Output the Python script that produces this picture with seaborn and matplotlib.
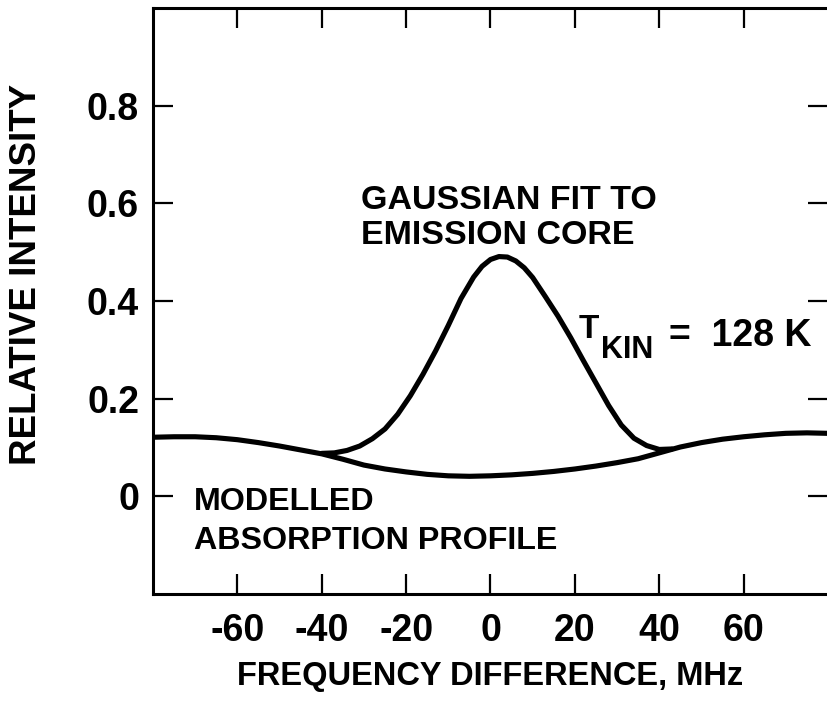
import numpy as np
import pandas as pd
import matplotlib
matplotlib.use("Agg")
import matplotlib.pyplot as plt
import seaborn as sns

# ---- data ----
absorption_x = [-80, -75, -70, -65, -60, -55, -50, -45, -40, -35, -30, -25, -20, -15, -10, -5,
                0, 5, 10, 15, 20, 25, 30, 35, 40, 45, 50, 55, 60, 65, 70, 75, 80]
absorption_y = [0.121, 0.122, 0.122, 0.120, 0.116, 0.110, 0.103, 0.095, 0.087, 0.076, 0.064,
                0.056, 0.050, 0.045, 0.042, 0.041, 0.042, 0.044, 0.047, 0.051, 0.056, 0.062,
                0.069, 0.077, 0.089, 0.101, 0.110, 0.117, 0.122, 0.126, 0.129, 0.130, 0.129]

gauss_x = [-40, -37, -34, -31, -28, -25, -22, -19, -16, -13, -10, -7, -4, -2, 0, 2, 4, 6, 8, 10,
           13, 16, 19, 22, 25, 28, 31, 34, 37, 40, 43]
gauss_y = [0.088, 0.089, 0.094, 0.103, 0.118, 0.138, 0.168, 0.206, 0.250, 0.298, 0.350, 0.405,
           0.449, 0.471, 0.485, 0.491, 0.490, 0.482, 0.468, 0.448, 0.409, 0.369, 0.325, 0.278,
           0.232, 0.186, 0.146, 0.119, 0.104, 0.096, 0.097]

x_ticks = [-60, -40, -20, 0, 20, 40, 60]
x_tick_labels = ["-60", "-40", "-20", "0", "20", "40", "60"]
y_ticks = [0, 0.2, 0.4, 0.6, 0.8]
y_tick_labels = ["0", "0.2", "0.4", "0.6", "0.8"]

x_label = "FREQUENCY DIFFERENCE, MHz"
y_label = "RELATIVE INTENSITY"
gauss_label = ["GAUSSIAN FIT TO", "EMISSION CORE"]
absorption_label = ["MODELLED", "ABSORPTION PROFILE"]
tkin_main, tkin_sub, tkin_value = "T", "KIN", "=  128 K"

# ---- styling ----
sns.set_style("ticks")
plt.rcParams["font.family"] = ["Liberation Sans", "DejaVu Sans"]
plt.rcParams["font.weight"] = "bold"

fig = plt.figure(figsize=(8.28, 7.05), dpi=100)
fig.patch.set_facecolor("white")
ax = fig.add_axes([153 / 828, 1 - 594 / 705, (828 - 153) / 828, (594 - 8) / 705])
ax.set_facecolor("white")

df_abs = pd.DataFrame({"x": absorption_x, "y": absorption_y})
df_gau = pd.DataFrame({"x": gauss_x, "y": gauss_y})
sns.lineplot(data=df_abs, x="x", y="y", ax=ax, color="black", lw=3.7,
             estimator=None, sort=False, solid_joinstyle="round", solid_capstyle="round")
sns.lineplot(data=df_gau, x="x", y="y", ax=ax, color="black", lw=3.7,
             estimator=None, sort=False, solid_joinstyle="round", solid_capstyle="round")

ax.set_xlim(-80, 80)
ax.set_ylim(-0.2, 1.0)
ax.set_xticks(x_ticks)
ax.set_xticklabels(x_tick_labels)
ax.set_yticks(y_ticks)
ax.set_yticklabels(y_tick_labels)

for s in ["left", "bottom", "top"]:
    ax.spines[s].set_linewidth(2.2)
    ax.spines[s].set_color("black")
ax.spines["right"].set_visible(False)

ax.tick_params(axis="x", which="both", direction="in", length=14.5, width=1.6,
               top=True, bottom=True, labelsize=27, pad=14, colors="black")
ax.tick_params(axis="y", which="both", direction="in", length=14.5, width=1.6,
               left=True, right=True, labelsize=27, pad=10, colors="black")
for lab in ax.get_xticklabels() + ax.get_yticklabels():
    lab.set_fontweight("bold")

ax.set_xlabel(x_label, fontsize=23.5, fontweight="bold", labelpad=8, color="black")
ax.set_ylabel(y_label, fontsize=26.5, fontweight="bold", color="black")
ax.yaxis.set_label_coords(-0.162, 0.545)

tkw = dict(fontweight="bold", color="black", va="baseline", ha="left")
ax.text(-30.6, 0.588, gauss_label[0], fontsize=24.5, **tkw)
ax.text(-30.6, 0.516, gauss_label[1], fontsize=24.5, **tkw)
ax.text(-70.3, -0.029, absorption_label[0], fontsize=23.2, **tkw)
ax.text(-70.3, -0.107, absorption_label[1], fontsize=23.2, **tkw)
ax.text(21.0, 0.325, tkin_main, fontsize=24, **tkw)
ax.text(26.2, 0.284, tkin_sub, fontsize=22, **tkw)
ax.text(42.3, 0.307, tkin_value, fontsize=27, **tkw)

fig.savefig("out.png", dpi=100, facecolor="white")
